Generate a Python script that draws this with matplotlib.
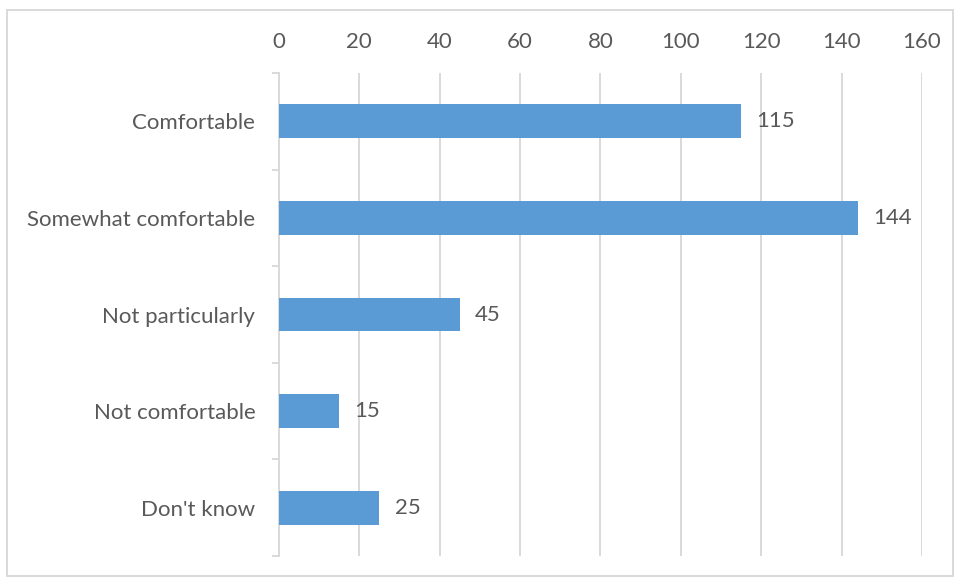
import matplotlib
matplotlib.use('Agg')
import matplotlib.pyplot as plt
from matplotlib.patches import Rectangle
import numpy as np

categories = ['Comfortable', 'Somewhat comfortable', 'Not particularly',
              'Not comfortable', "Don't know"]
counts = [115, 144, 45, 15, 25]
x_ticks = [0, 20, 40, 60, 80, 100, 120, 140, 160]

bar_color = '#5B9BD5'
text_color = '#595959'
line_color = '#D9D9D9'
fsize = 16

plt.rcParams['font.family'] = ['Lato', 'DejaVu Sans']

fig = plt.figure(figsize=(9.56, 5.79), dpi=100)
ax = fig.add_axes([0.2918, 0.0397, 0.6726, 0.8342])

y = np.arange(len(categories))
ax.barh(y, counts, height=0.35, color=bar_color, zorder=3)

for yi, v in zip(y, counts):
    ax.annotate(str(v), (v, yi), xytext=(11, 0), textcoords='offset points',
                va='center', ha='left', fontsize=fsize, color=text_color)

ax.set_xlim(0, 160)
ax.set_ylim(len(categories) - 0.5, -0.5)
ax.set_xticks(x_ticks)
ax.xaxis.tick_top()
ax.tick_params(axis='x', length=0, pad=15, labelsize=fsize, labelcolor=text_color)
ax.grid(axis='x', color=line_color, linewidth=1.4, zorder=0)

# category labels sit between boundary ticks
ax.set_yticks(np.arange(-0.5, len(categories)), minor=False)
ax.set_yticklabels([])
ax.set_yticks(y, minor=True)
ax.set_yticklabels(categories, minor=True)
ax.tick_params(axis='y', which='major', length=5, width=1.4, color=line_color)
ax.tick_params(axis='y', which='minor', length=0, pad=17, labelsize=fsize,
               labelcolor=text_color)

for side in ['top', 'right', 'bottom']:
    ax.spines[side].set_visible(False)
ax.spines['left'].set_color(line_color)
ax.spines['left'].set_linewidth(1.4)

# outer chart border
fig.patches.append(Rectangle((7 / 956, 3 / 579), 946 / 956, 566 / 579,
                             transform=fig.transFigure, fill=False,
                             edgecolor=line_color, linewidth=1.4))

fig.savefig('out.png', dpi=100)
